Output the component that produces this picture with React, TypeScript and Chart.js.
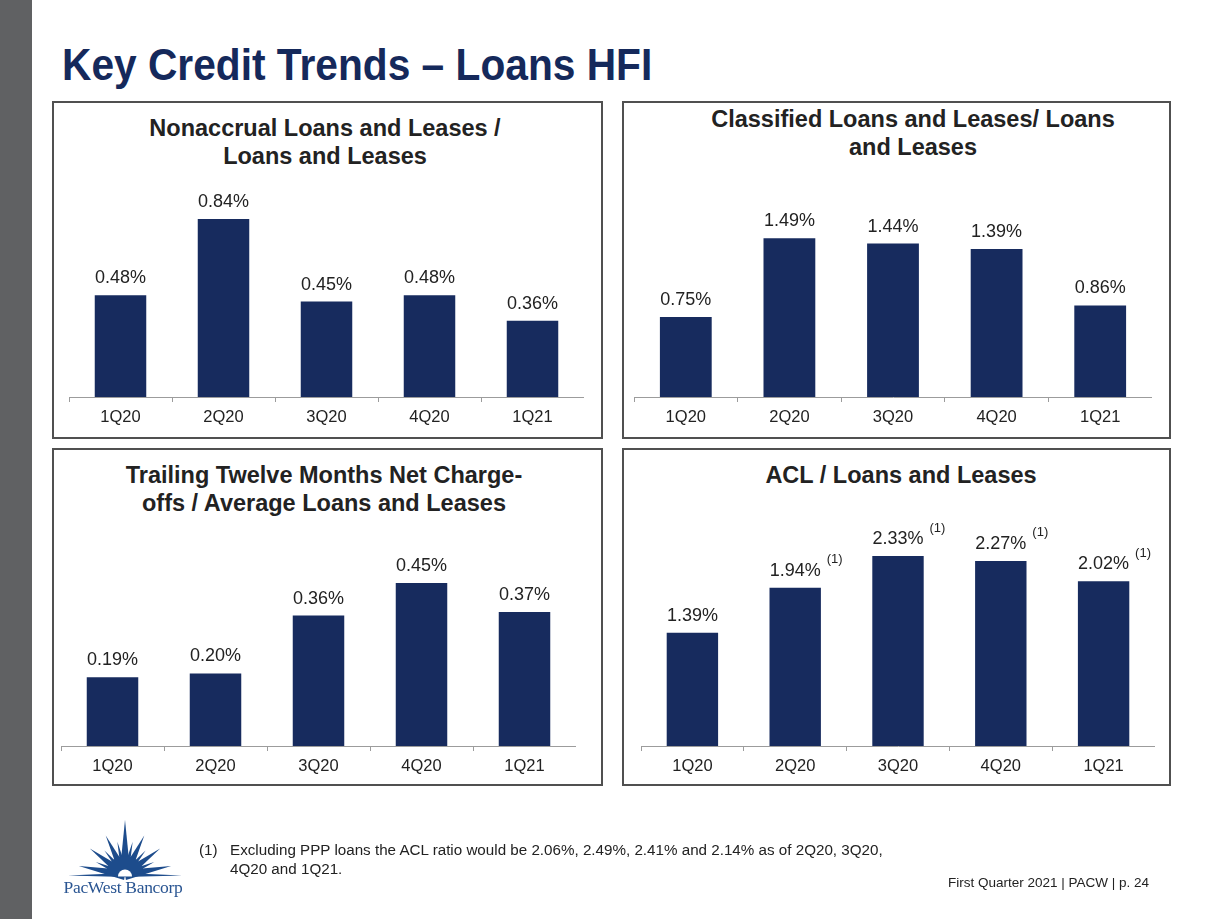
import React, { useEffect, useRef } from "react";
import { Chart, registerables } from "chart.js";

Chart.register(...registerables);

// ---------- data ----------
const categories = ["1Q20", "2Q20", "3Q20", "4Q20", "1Q21"];
const nonaccrualRatio = [0.48, 0.84, 0.45, 0.48, 0.36];
const classifiedRatio = [0.75, 1.49, 1.44, 1.39, 0.86];
const ttmNetChargeOffs = [0.19, 0.2, 0.36, 0.45, 0.37];
const aclRatio = [1.39, 1.94, 2.33, 2.27, 2.02];
const aclNotes = ["", "(1)", "(1)", "(1)", "(1)"];

const mainTitle = "Key Credit Trends \u2013 Loans HFI";
const footnoteMark = "(1)";
const footnoteLines = [
  "Excluding PPP loans the ACL ratio would be 2.06%, 2.49%, 2.41% and 2.14% as of 2Q20, 3Q20,",
  "4Q20 and 1Q21.",
];
const footerText = "First Quarter 2021 | PACW | p. 24";

// ---------- style ----------
const NAVY = "#172b5e";
const TITLE_NAVY = "#15295b";
const TEXT = "#222222";
const AXIS = "#9c9c9c";
const LOGO_BLUE = "#1d4c8c";
const FONT = "'Liberation Sans', Arial, Helvetica, sans-serif";
const AREA_H = 212;
const PAD_TOP = 70;
const AXIS_H = 40;

type Axis = { left: number; right: number; y: number };

function BarChart({ axis, values, yMax, notes }: { axis: Axis; values: number[]; yMax: number; notes?: string[] }) {
  const ref = useRef<HTMLCanvasElement>(null);
  useEffect(() => {
    const canvas = ref.current;
    if (!canvas) return;
    const labelPlugin = {
      id: "valueLabels",
      afterDatasetsDraw(chart: any) {
        const ctx = chart.ctx as CanvasRenderingContext2D;
        const meta = chart.getDatasetMeta(0);
        ctx.save();
        meta.data.forEach((bar: any, i: number) => {
          const txt = values[i].toFixed(2) + "%";
          ctx.font = `18px ${FONT}`;
          ctx.fillStyle = TEXT;
          ctx.textAlign = "center";
          ctx.textBaseline = "middle";
          const ly = bar.y - 17;
          ctx.fillText(txt, bar.x, ly);
          if (notes && notes[i]) {
            const w = ctx.measureText(txt).width;
            ctx.font = `13px ${FONT}`;
            ctx.textAlign = "left";
            ctx.fillText(notes[i], bar.x + w / 2 + 6, ly - 11);
          }
        });
        ctx.restore();
      },
    };
    const chart = new Chart(canvas, {
      type: "bar",
      data: {
        labels: categories,
        datasets: [
          {
            data: values,
            backgroundColor: NAVY,
            borderWidth: 0,
            barPercentage: 0.5,
            categoryPercentage: 1,
          },
        ],
      },
      options: {
        responsive: false,
        animation: false,
        layout: { padding: { top: PAD_TOP, left: 0, right: 0, bottom: 0 } },
        plugins: {
          legend: { display: false },
          tooltip: { enabled: false },
          title: { display: false },
        },
        scales: {
          x: {
            offset: true,
            grid: {
              display: true,
              drawOnChartArea: false,
              drawTicks: true,
              tickLength: 5,
              color: AXIS,
              offset: true,
            },
            border: { display: true, color: AXIS, width: 1 },
            ticks: {
              color: TEXT,
              font: { family: FONT, size: 16.5 },
              padding: 6,
              maxRotation: 0,
              autoSkip: false,
            },
            afterFit: (s: any) => {
              s.height = AXIS_H;
            },
          },
          y: { display: false, min: 0, max: yMax },
        },
      } as any,
      plugins: [labelPlugin],
    });
    return () => chart.destroy();
  }, []);
  const w = axis.right - axis.left;
  return (
    <canvas
      ref={ref}
      width={w}
      height={PAD_TOP + AREA_H + AXIS_H}
      style={{ position: "absolute", left: axis.left, top: axis.y - AREA_H - PAD_TOP }}
    />
  );
}

type Box = { left: number; top: number; width: number; height: number };

function Panel({
  box,
  titleLines,
  titleCenterX,
  titleFirstCenterY,
  axis,
  values,
  yMax,
  notes,
}: {
  box: Box;
  titleLines: string[];
  titleCenterX: number;
  titleFirstCenterY: number;
  axis: Axis;
  values: number[];
  yMax: number;
  notes?: string[];
}) {
  const LH = 27.5;
  return (
    <>
      <div
        style={{
          position: "absolute",
          left: box.left,
          top: box.top,
          width: box.width,
          height: box.height,
          border: "2px solid #505050",
          boxSizing: "border-box",
        }}
      />
      {titleLines.map((t, i) => (
        <div
          key={i}
          style={{
            position: "absolute",
            left: titleCenterX - 300,
            width: 600,
            top: titleFirstCenterY - LH / 2 + i * LH,
            height: LH,
            lineHeight: `${LH}px`,
            textAlign: "center",
            fontFamily: FONT,
            fontWeight: "bold",
            fontSize: 23.5,
            color: TEXT,
            whiteSpace: "nowrap",
          }}
        >
          {t}
        </div>
      ))}
      <BarChart axis={axis} values={values} yMax={yMax} notes={notes} />
    </>
  );
}

function Logo() {
  const cx = 125;
  const cy = 875;
  const rays: [number, number, number][] = [
    [11, 47, 5],
    [24, 32, 3.5],
    [37, 44, 5],
    [50, 32, 3.5],
    [64, 44, 5],
    [77, 34, 3.5],
    [90, 55, 5.5],
    [103, 34, 3.5],
    [116, 44, 5],
    [130, 32, 3.5],
    [143, 44, 5],
    [156, 32, 3.5],
    [169, 47, 5],
  ];
  const polys = rays.map(([deg, len, hw], i) => {
    const a = (deg * Math.PI) / 180;
    const tx = cx + Math.cos(a) * len;
    const ty = cy - Math.sin(a) * len;
    const px = Math.sin(a) * hw;
    const py = Math.cos(a) * hw;
    const pts = `${cx - px},${cy - py} ${cx + px},${cy + py} ${tx},${ty}`;
    return <polygon key={i} points={pts} fill={LOGO_BLUE} />;
  });
  return (
    <svg
      width={1225}
      height={919}
      style={{ position: "absolute", left: 0, top: 0, pointerEvents: "none" }}
    >
      {polys}
      <path d={`M ${cx - 19} ${cy} A 19 19 0 0 1 ${cx + 19} ${cy} Z`} fill={LOGO_BLUE} />
      <polygon points={`68,${cy + 0.5} ${cx},${cy - 2} 182,${cy + 0.5} ${cx},${cy + 2}`} fill={LOGO_BLUE} />
      <path d={`M ${cx - 7} ${cy + 1.5} A 7 7 0 0 1 ${cx + 7} ${cy + 1.5} Z`} fill="#ffffff" />
      <text
        x={123}
        y={893}
        textAnchor="middle"
        fontFamily="'Liberation Serif', 'Times New Roman', serif"
        fontSize={17.5}
        fill="#2a5592"
        letterSpacing={-0.3}
      >
        PacWest Bancorp
      </text>
    </svg>
  );
}

export default function App() {
  return (
    <div
      style={{
        position: "absolute",
        left: 0,
        top: 0,
        width: 1225,
        height: 919,
        overflow: "hidden",
        background: "#ffffff",
        fontFamily: FONT,
      }}
    >
      <div style={{ position: "absolute", left: 0, top: 0, width: 32, height: 919, background: "#606163" }} />
      <div
        style={{
          position: "absolute",
          left: 62,
          top: 40,
          height: 50,
          lineHeight: "50px",
          fontFamily: FONT,
          fontWeight: "bold",
          fontSize: 44,
          color: TITLE_NAVY,
          whiteSpace: "nowrap",
          transform: "scaleX(0.925)",
          transformOrigin: "0 0",
        }}
      >
        {mainTitle}
      </div>

      <Panel
        box={{ left: 52, top: 101, width: 551, height: 338 }}
        titleLines={["Nonaccrual Loans and Leases /", "Loans and Leases"]}
        titleCenterX={325}
        titleFirstCenterY={129}
        axis={{ left: 69, right: 584, y: 397 }}
        values={nonaccrualRatio}
        yMax={1.0}
      />
      <Panel
        box={{ left: 622, top: 101, width: 549, height: 338 }}
        titleLines={["Classified Loans and Leases/ Loans", "and Leases"]}
        titleCenterX={913}
        titleFirstCenterY={120}
        axis={{ left: 634, right: 1152, y: 397 }}
        values={classifiedRatio}
        yMax={1.99}
      />
      <Panel
        box={{ left: 52, top: 448, width: 551, height: 338 }}
        titleLines={["Trailing Twelve Months Net Charge-", "offs / Average Loans and Leases"]}
        titleCenterX={324}
        titleFirstCenterY={476}
        axis={{ left: 61, right: 576, y: 746 }}
        values={ttmNetChargeOffs}
        yMax={0.585}
      />
      <Panel
        box={{ left: 622, top: 448, width: 549, height: 338 }}
        titleLines={["ACL / Loans and Leases"]}
        titleCenterX={901}
        titleFirstCenterY={476}
        axis={{ left: 641, right: 1155, y: 746 }}
        values={aclRatio}
        yMax={2.6}
        notes={aclNotes}
      />

      <Logo />

      <div style={{ position: "absolute", left: 199, top: 840, lineHeight: "19px", fontSize: 15.2, color: TEXT, whiteSpace: "nowrap" }}>
        {footnoteMark}
      </div>
      {footnoteLines.map((l, i) => (
        <div
          key={i}
          style={{ position: "absolute", left: 230, top: 840 + i * 19, lineHeight: "19px", fontSize: 15.2, color: TEXT, whiteSpace: "nowrap" }}
        >
          {l}
        </div>
      ))}
      <div style={{ position: "absolute", left: 948, top: 874, lineHeight: "18px", fontSize: 13.5, color: TEXT, whiteSpace: "nowrap" }}>
        {footerText}
      </div>
    </div>
  );
}
